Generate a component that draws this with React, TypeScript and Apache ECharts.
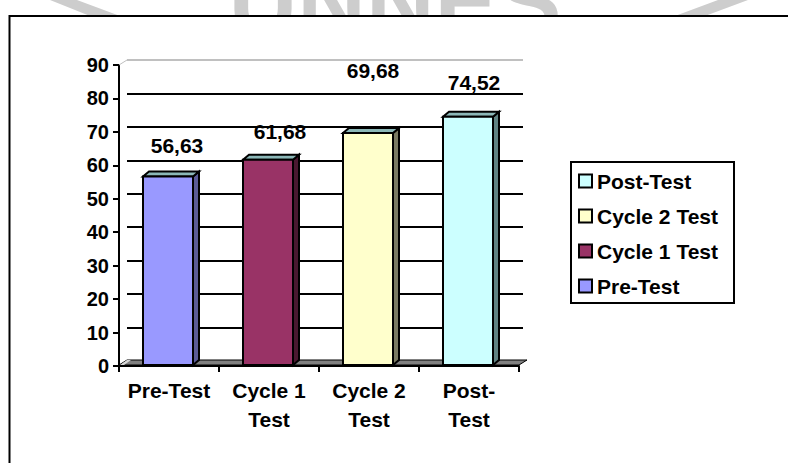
import React, { useEffect, useRef } from 'react';
import * as echarts from 'echarts';

// ---- data ----
const categories = ['Pre-Test', 'Cycle 1\nTest', 'Cycle 2\nTest', 'Post-\nTest'];
const seriesNames = ['Pre-Test', 'Cycle 1 Test', 'Cycle 2 Test', 'Post-Test'];
const scores = [56.63, 61.68, 69.68, 74.52];
const legendOrder = ['Post-Test', 'Cycle 2 Test', 'Cycle 1 Test', 'Pre-Test'];
const yMin = 0;
const yMax = 90;
const yInterval = 10;

// ---- styles ----
const frontColors = ['#9999FF', '#993366', '#FFFFCC', '#CCFFFF'];
const sideColors = ['#5a5a96', '#4a1830', '#7a7a62', '#5f8282'];
const topColor = '#8cb8b8';
const labelOffsets = [[9, -31], [12, -28], [5, -62], [6, -34]];
const FONT = '"Liberation Sans", Arial, sans-serif';
const DX = 6;
const DY = 5;

export default function App() {
  const ref = useRef<HTMLDivElement>(null);

  useEffect(() => {
    if (!ref.current) return;
    const chart = echarts.init(ref.current, undefined, { renderer: 'svg' });

    const barSeries = seriesNames.map((name, i) => ({
      name,
      type: 'custom',
      xAxisIndex: 0,
      yAxisIndex: 0,
      z: 3,
      itemStyle: { color: frontColors[i] },
      data: [[i, scores[i]]],
      renderItem: (params: any, api: any) => {
        const idx = api.value(0);
        const v = api.value(1);
        const top = api.coord([idx, v]);
        const base = api.coord([idx, 0]);
        const bw = api.size([1, 0])[0] * 0.5;
        const x0 = top[0] - bw / 2 - 1;
        const x1 = x0 + bw;
        const ty = top[1];
        const by = base[1] - 1;
        const stroke = { stroke: '#000', lineWidth: 2, lineJoin: 'miter' };
        const off = labelOffsets[i];
        return {
          type: 'group',
          children: [
            {
              type: 'polygon',
              shape: { points: [[x1, ty], [x1 + DX, ty - DY], [x1 + DX, by - DY], [x1, by]] },
              style: { fill: sideColors[i], ...stroke },
            },
            {
              type: 'polygon',
              shape: { points: [[x0, ty], [x0 + DX, ty - DY], [x1 + DX, ty - DY], [x1, ty]] },
              style: { fill: topColor, ...stroke },
            },
            {
              type: 'rect',
              shape: { x: x0, y: ty, width: bw, height: by - ty },
              style: { fill: frontColors[i], ...stroke },
            },
            {
              type: 'text',
              x: (x0 + x1) / 2 + off[0],
              y: ty + off[1],
              style: {
                text: v.toFixed(2).replace('.', ','),
                fontSize: 21,
                fontWeight: 'bold',
                fontFamily: FONT,
                fill: '#000',
                align: 'center',
                verticalAlign: 'middle',
              },
            },
          ],
        };
      },
    }));

    const floorSeries = {
      name: 'floor',
      type: 'custom',
      xAxisIndex: 0,
      yAxisIndex: 0,
      z: 1,
      silent: true,
      data: [[0, 0]],
      renderItem: (params: any, api: any) => {
        const cs = params.coordSys;
        const bx = cs.x;
        const by = cs.y + cs.height - 1;
        const w = cs.width;
        return {
          type: 'group',
          children: [
            {
              type: 'polygon',
              shape: { points: [[bx, by], [bx + 8, by - 5], [bx + w + 8, by - 5], [bx + w, by]] },
              style: { fill: '#808080', stroke: '#000', lineWidth: 1 },
            },
            {
              type: 'polygon',
              shape: { points: [[bx + 1, by], [bx + 8, by - 5], [bx + 12, by - 5], [bx + 5, by]] },
              style: { fill: '#d8d8d8' },
            },
            {
              type: 'line',
              shape: { x1: bx, y1: cs.y, x2: bx + 8, y2: cs.y - 5 },
              style: { stroke: '#c0c0c0', lineWidth: 1 },
            },
          ],
        };
      },
    };

    const splitColors = ['#c0c0c0'];
    for (let k = yMin + yInterval; k < yMax; k += yInterval) splitColors.push('#000');
    splitColors.push('#c0c0c0');

    chart.setOption({
      animation: false,
      backgroundColor: 'transparent',
      graphic: [
        {
          type: 'polygon',
          z: -20,
          silent: true,
          shape: { points: [[50, 0], [77, 0], [120, 16], [90, 16]] },
          style: { fill: '#cdcdcd' },
        },
        {
          type: 'polygon',
          z: -20,
          silent: true,
          shape: { points: [[718, 0], [748, 0], [705, 16], [675, 16]] },
          style: { fill: '#cdcdcd' },
        },
        {
          type: 'text',
          z: -20,
          silent: true,
          x: 395,
          y: 48,
          style: {
            text: 'UNNES',
            fontSize: 95,
            fontWeight: 'bold',
            fontFamily: FONT,
            fill: '#cdcdcd',
            align: 'center',
            verticalAlign: 'bottom',
          },
        },
        {
          type: 'rect',
          z: -10,
          silent: true,
          shape: { x: 9.5, y: 16, width: 800, height: 500 },
          style: { fill: '#fff', stroke: '#000', lineWidth: 2 },
        },
      ],
      grid: [
        { left: 119, right: 269, top: 65, bottom: 97 },
        { left: 127, right: 265, top: 60, bottom: 102 },
      ],
      legend: {
        orient: 'vertical',
        left: 571,
        top: 162,
        padding: [8, 16, 6, 7],
        borderColor: '#000',
        borderWidth: 2,
        backgroundColor: '#fff',
        itemWidth: 13,
        itemHeight: 13,
        itemGap: 13,
        icon: 'rect',
        selectedMode: false,
        textStyle: {
          fontSize: 21,
          fontWeight: 'bold',
          fontFamily: FONT,
          color: '#000',
          lineHeight: 22,
        },
        data: legendOrder.map((n) => ({
          name: n,
          icon: 'rect',
          itemStyle: {
            color: frontColors[seriesNames.indexOf(n)],
            borderColor: '#000',
            borderWidth: 2,
          },
        })),
      },
      xAxis: [
        {
          type: 'category',
          gridIndex: 0,
          data: categories,
          axisLine: { show: true, lineStyle: { color: '#000', width: 2 } },
          axisTick: { show: true, alignWithLabel: false, length: 6, lineStyle: { color: '#000', width: 2 } },
          axisLabel: {
            margin: 10,
            fontSize: 21,
            fontWeight: 'bold',
            fontFamily: FONT,
            color: '#000',
            lineHeight: 29,
            interval: 0,
          },
          splitLine: { show: false },
        },
        {
          type: 'value',
          gridIndex: 1,
          axisLine: { show: false },
          axisTick: { show: false },
          axisLabel: { show: false },
          splitLine: { show: false },
        },
      ],
      yAxis: [
        {
          type: 'value',
          gridIndex: 0,
          min: yMin,
          max: yMax,
          interval: yInterval,
          axisLine: { show: true, lineStyle: { color: '#000', width: 2 } },
          axisTick: { show: true, length: 6, lineStyle: { color: '#000', width: 2 } },
          axisLabel: {
            margin: 10,
            fontSize: 20,
            fontWeight: 'bold',
            fontFamily: FONT,
            color: '#000',
          },
          splitLine: { show: false },
        },
        {
          type: 'value',
          gridIndex: 1,
          min: yMin,
          max: yMax,
          interval: yInterval,
          axisLine: { show: false },
          axisTick: { show: false },
          axisLabel: { show: false },
          splitLine: { show: true, lineStyle: { color: splitColors, width: 2 } },
        },
      ],
      series: [floorSeries, ...barSeries],
    });

    return () => chart.dispose();
  }, []);

  return (
    <div
      ref={ref}
      style={{ position: 'fixed', left: 0, top: 0, width: 788, height: 463, background: '#fff' }}
    />
  );
}
